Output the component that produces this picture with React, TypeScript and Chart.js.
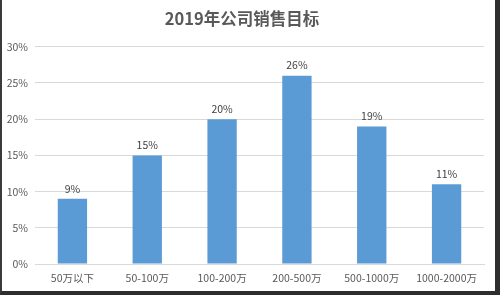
import React, { useEffect, useRef } from "react";
import { Chart, registerables } from "chart.js";

Chart.register(...registerables);

const categories = ["50万以下", "50-100万", "100-200万", "200-500万", "500-1000万", "1000-2000万"];
const values = [9, 15, 20, 26, 19, 11];
const titleText = "2019年公司销售目标";
const yMax = 30;
const yStep = 5;

const FONT = "'Noto Sans CJK SC', 'Noto Sans', sans-serif";

const labelPlugin = {
  id: "barLabels",
  afterDatasetsDraw(chart: any) {
    const ctx = chart.ctx;
    const meta = chart.getDatasetMeta(0);
    ctx.save();
    ctx.font = `10.5px ${FONT}`;
    ctx.fillStyle = "#404040";
    ctx.textAlign = "center";
    ctx.textBaseline = "bottom";
    meta.data.forEach((bar: any, i: number) => {
      ctx.fillText(`${values[i]}%`, bar.x, bar.y - 5);
    });
    ctx.restore();
  },
};

export default function App() {
  const ref = useRef<HTMLCanvasElement>(null);
  useEffect(() => {
    if (!ref.current) return;
    const chart = new Chart(ref.current, {
      type: "bar",
      data: {
        labels: categories,
        datasets: [
          {
            data: values,
            backgroundColor: "#5b9bd5",
            barPercentage: 0.392,
            categoryPercentage: 1,
          },
        ],
      },
      options: {
        responsive: false,
        animation: false,
        devicePixelRatio: 1,
        layout: { padding: { left: 0, right: 16, top: 0, bottom: 0 } },
        plugins: {
          legend: { display: false },
          tooltip: { enabled: false },
          title: {
            display: true,
            text: titleText,
            color: "#595959",
            font: { family: FONT, size: 16.5, weight: "bold" },
            padding: { top: 9, bottom: 18 },
          },
        },
        scales: {
          x: {
            grid: { display: false, drawTicks: false },
            border: { display: true, color: "#d9d9d9" },
            ticks: {
              color: "#595959",
              font: { family: FONT, size: 10.5 },
              padding: 8,
              maxRotation: 0,
              autoSkip: false,
            },
            afterFit(scale: any) {
              scale.height = 31;
            },
          },
          y: {
            min: 0,
            max: yMax,
            grid: { color: "#d9d9d9", drawTicks: false },
            border: { display: false },
            ticks: {
              stepSize: yStep,
              color: "#595959",
              font: { family: FONT, size: 10.5 },
              padding: 7,
              callback: (v: any) => `${v}%`,
            },
            afterFit(scale: any) {
              scale.width = 35;
            },
          },
        },
      },
      plugins: [labelPlugin],
    });
    return () => chart.destroy();
  }, []);

  return (
    <div style={{ position: "fixed", left: 0, top: 0, width: 500, height: 295, background: "#fff" }}>
      <canvas ref={ref} width={500} height={295} style={{ position: "absolute", left: 0, top: 0 }} />
      <div
        style={{
          position: "absolute",
          inset: 0,
          boxSizing: "border-box",
          borderLeft: "2px solid #3a3a3a",
          borderRight: "5px solid #2e2e2e",
          borderBottom: "4px solid #2e2e2e",
          pointerEvents: "none",
        }}
      />
    </div>
  );
}
